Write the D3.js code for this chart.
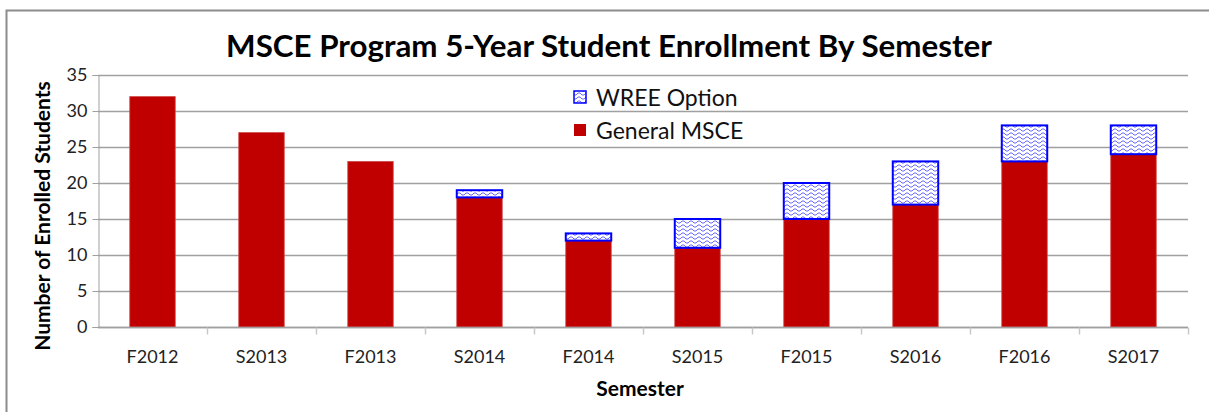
<!DOCTYPE html>
<html>
<head>
<meta charset="utf-8">
<script src="https://cdn.jsdelivr.net/npm/d3@7"></script>
<style>
  body { margin: 0; background: #fff; }
  text { font-family: Lato, "Open Sans", sans-serif; }
</style>
</head>
<body>
<div id="chart"></div>
<script>
const semesters = ['F2012', 'S2013', 'F2013', 'S2014', 'F2014', 'S2015', 'F2015', 'S2016', 'F2016', 'S2017'];
const generalMSCE = [32, 27, 23, 18, 12, 11, 15, 17, 23, 24];
const wreeOption  = [0, 0, 0, 1, 1, 4, 5, 6, 5, 4];
const yTicks = [0, 5, 10, 15, 20, 25, 30, 35];

const width  = 1209;
const height = 412;
const margin = { top: 75, right: 21, bottom: 85, left: 98 };

const svg = d3.select( '#chart' )
              .append( 'svg' )
              .attr( 'width', width )
              .attr( 'height', height );

// wave pattern for the WREE series
const pat = svg.append( 'defs' )
               .append( 'pattern' )
               .attr( 'id', 'wave' )
               .attr( 'patternUnits', 'userSpaceOnUse' )
               .attr( 'width', 8 )
               .attr( 'height', 4 );
pat.append( 'rect' ).attr( 'width', 8 ).attr( 'height', 4 ).attr( 'fill', '#fff' );
pat.append( 'path' )
   .attr( 'd', 'M0,3 L2,1 L4,1 L6,3 L8,3' )
   .attr( 'fill', 'none' )
   .attr( 'stroke', '#6b6bff' )
   .attr( 'stroke-width', 1 );

// chart area border
svg.append( 'rect' )
   .attr( 'x', 6.5 ).attr( 'y', 10.5 )
   .attr( 'width', 1300 ).attr( 'height', 600 )
   .attr( 'fill', 'none' )
   .attr( 'stroke', '#8c8c8c' )
   .attr( 'stroke-width', 2 );

const x = d3.scaleBand()
            .domain( semesters )
            .range( [margin.left, width - margin.right] )
            .paddingInner( 0.583 )
            .paddingOuter( 0.2915 );

const y = d3.scaleLinear()
            .domain( [0, 35] )
            .range( [height - margin.bottom, margin.top] );

const g = svg.append( 'g' );

// gridlines
g.selectAll( '.grid' )
 .data( yTicks )
 .enter()
 .append( 'line' )
 .attr( 'x1', margin.left ).attr( 'x2', width - margin.right )
 .attr( 'y1', d => Math.round( y( d ) ) + 0.5 )
 .attr( 'y2', d => Math.round( y( d ) ) + 0.5 )
 .attr( 'stroke', '#a0a0a0' )
 .attr( 'stroke-width', 1.3 );

// y axis
const yAxis = svg.append( 'g' )
                 .attr( 'transform', `translate(${margin.left + 0.5},0)` )
                 .call( d3.axisLeft( y ).tickValues( yTicks ).tickSize( 6 ).tickPadding( 5 ) );
yAxis.selectAll( 'line, path' ).attr( 'stroke', '#a0a0a0' );
yAxis.selectAll( 'text' )
     .attr( 'font-size', '18px' )
     .attr( 'fill', '#222' )
     .style( 'font-family', 'Lato, sans-serif' );

// bars
const stack = semesters.map( ( s, i ) => ( { s, gen : generalMSCE[i], wree : wreeOption[i] } ) );

svg.selectAll( '.gen' )
   .data( stack )
   .enter()
   .append( 'rect' )
   .attr( 'x', d => x( d.s ) )
   .attr( 'y', d => y( d.gen ) )
   .attr( 'width', x.bandwidth() )
   .attr( 'height', d => y( 0 ) - y( d.gen ) )
   .attr( 'fill', '#c00000' )
   .attr( 'stroke', '#d04a4a' )
   .attr( 'stroke-width', 0.8 );

svg.selectAll( '.wree' )
   .data( stack.filter( d => d.wree > 0 ) )
   .enter()
   .append( 'rect' )
   .attr( 'x', d => x( d.s ) )
   .attr( 'y', d => y( d.gen + d.wree ) )
   .attr( 'width', x.bandwidth() )
   .attr( 'height', d => y( d.gen ) - y( d.gen + d.wree ) )
   .attr( 'fill', 'url(#wave)' )
   .attr( 'stroke', '#0000ff' )
   .attr( 'stroke-width', 2 );

// x axis
const xAxisY = Math.round( y( 0 ) ) + 0.5;
svg.append( 'line' )
   .attr( 'x1', margin.left ).attr( 'x2', width - margin.right )
   .attr( 'y1', xAxisY ).attr( 'y2', xAxisY )
   .attr( 'stroke', '#a0a0a0' ).attr( 'stroke-width', 1.3 );

const step = x.step();
const boundaries = semesters.map( ( s, i ) => margin.left + step * ( i + 1 ) );
svg.selectAll( '.xtick' )
   .data( boundaries )
   .enter()
   .append( 'line' )
   .attr( 'x1', d => Math.round( d ) + 0.5 ).attr( 'x2', d => Math.round( d ) + 0.5 )
   .attr( 'y1', xAxisY ).attr( 'y2', xAxisY + 7 )
   .attr( 'stroke', '#c8c8c8' ).attr( 'stroke-width', 1.5 );

svg.selectAll( '.xlabel' )
   .data( semesters )
   .enter()
   .append( 'text' )
   .attr( 'x', d => x( d ) + x.bandwidth() / 2 )
   .attr( 'y', 363 )
   .attr( 'text-anchor', 'middle' )
   .attr( 'font-size', '18px' )
   .attr( 'fill', '#222' )
   .text( d => d );

// axis titles
svg.append( 'text' )
   .attr( 'x', 640 )
   .attr( 'y', 396 )
   .attr( 'text-anchor', 'middle' )
   .attr( 'font-size', '21px' )
   .attr( 'font-weight', 'bold' )
   .text( 'Semester' );

svg.append( 'text' )
   .attr( 'transform', 'translate(50,216) rotate(-90)' )
   .attr( 'text-anchor', 'middle' )
   .attr( 'font-size', '21px' )
   .attr( 'font-weight', 'bold' )
   .text( 'Number of Enrolled Students' );

// title, scaled to the reference width
const title = svg.append( 'text' )
                 .attr( 'x', 609 )
                 .attr( 'y', 57 )
                 .attr( 'text-anchor', 'middle' )
                 .attr( 'font-size', '28px' )
                 .attr( 'font-weight', 'bold' )
                 .text( 'MSCE Program 5-Year Student Enrollment By Semester' );
const tw = title.node().getComputedTextLength();
title.attr( 'font-size', ( 28 * 766 / tw ) + 'px' );

// legend
const legend = [
	{ name : 'WREE Option', fill : 'url(#wave)', stroke : '#0000ff', y : 91 },
	{ name : 'General MSCE', fill : '#c00000', stroke : 'none', y : 124 }
];
const lg = svg.selectAll( '.legend' )
              .data( legend )
              .enter()
              .append( 'g' );
lg.append( 'rect' )
  .attr( 'x', 574 ).attr( 'y', d => d.y )
  .attr( 'width', 12 ).attr( 'height', 12 )
  .attr( 'fill', d => d.fill )
  .attr( 'stroke', d => d.stroke )
  .attr( 'stroke-width', 1.5 );
lg.append( 'text' )
  .attr( 'x', 596 ).attr( 'y', d => d.y + 15 )
  .attr( 'font-size', '23px' )
  .attr( 'fill', '#111' )
  .text( d => d.name );
</script>
</body>
</html>
